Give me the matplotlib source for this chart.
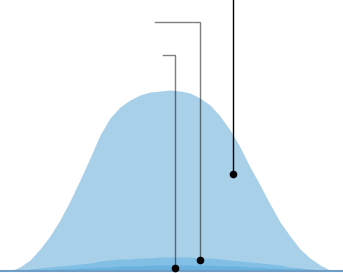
import matplotlib
matplotlib.use('Agg')
import matplotlib.pyplot as plt

# sample positions across the chart width
x = [0, 10, 20, 30, 40, 50, 60, 70, 80, 90, 100, 110, 120, 130, 140, 150, 160, 170,
     180, 190, 200, 210, 220, 230, 240, 250, 260, 270, 280, 290, 300, 310, 320, 330, 340]

# large distribution
big = [0, 0, 4, 11, 22, 35, 51, 70, 91, 113, 136, 153, 164, 171, 176, 179, 180, 181,
       180, 178, 173, 166, 155, 141, 124, 104, 86, 67, 49, 35, 22, 13, 6, 1, 0]

# small flat distributions near the baseline
mid = [0, 0, 1, 2, 3, 4, 5, 6, 7, 8, 10, 11, 12, 12, 13, 13, 14, 14,
       14, 14, 13, 13, 12, 11, 10, 9, 8, 7, 6, 4, 3, 2, 1, 0, 0]
low = [0, 0, 0, 1, 1, 1, 2, 2, 3, 3, 4, 4, 5, 5, 5, 6, 6, 6,
       6, 6, 6, 6, 5, 5, 5, 4, 4, 3, 3, 2, 2, 1, 1, 0, 0]

# annotation anchors: (x, y of dot, y of elbow, x of label end)
callouts = [
    (233, 97, 271, 233),
    (200, 11, 249, 155),
    (175, 3, 216, 163),
]
callout_colors = ['black', (0, 0, 0, 0.5), (0, 0, 0, 0.5)]

fig = plt.figure(figsize=(3.43, 2.73), dpi=100)
ax = fig.add_axes([0, 0, 1, 1])

ax.fill_between(x, 0, big, color='#a8d0e9', linewidth=0)
ax.fill_between(x, 0, mid, color='#82bfe4', linewidth=0)
ax.fill_between(x, 0, low, color='#6bb3df', linewidth=0)
ax.axhline(0, color='#6f9cc4', linewidth=1.5)

for (cx, cy, ey, lx), c in zip(callouts, callout_colors):
    ax.plot([cx, cx, lx], [cy, ey, ey], color=c, linewidth=1, solid_joinstyle='miter')
    ax.plot(cx, cy, 'o', color='black', markersize=4.5)

ax.set_xlim(0, 343)
ax.set_ylim(-2, 271)
ax.axis('off')

plt.savefig('out.png', dpi=100)
